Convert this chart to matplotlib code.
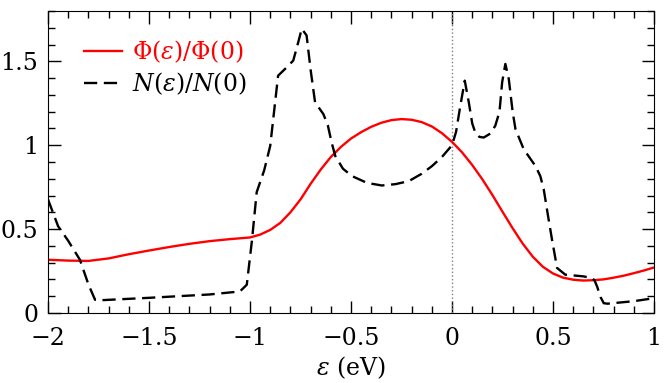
import matplotlib
matplotlib.use("Agg")
import matplotlib.pyplot as plt
from matplotlib.ticker import MultipleLocator

plt.rcParams['font.family'] = ['DejaVu Serif']
plt.rcParams['mathtext.fontset'] = 'dejavuserif'

# Phi(eps)/Phi(0)
phi_x = [-2.0, -1.9, -1.8, -1.7, -1.6, -1.5, -1.4, -1.3, -1.2, -1.1, -1.0,
         -0.95, -0.9, -0.85, -0.8, -0.75, -0.7, -0.65, -0.6, -0.55, -0.5,
         -0.45, -0.4, -0.35, -0.3, -0.25, -0.2, -0.15, -0.1, -0.05, 0.0,
         0.05, 0.1, 0.15, 0.2, 0.25, 0.3, 0.35, 0.4, 0.45, 0.5,
         0.55, 0.6, 0.65, 0.7, 0.75, 0.8, 0.85, 0.9, 0.95, 1.0]
phi_y = [0.317, 0.312, 0.31, 0.325, 0.35, 0.372, 0.393, 0.412, 0.428, 0.44, 0.45,
         0.467, 0.495, 0.537, 0.6, 0.677, 0.77, 0.855, 0.93, 0.99, 1.04,
         1.078, 1.11, 1.134, 1.15, 1.156, 1.152, 1.138, 1.112, 1.072, 1.02,
         0.957, 0.882, 0.797, 0.703, 0.603, 0.505, 0.413, 0.335, 0.275, 0.235,
         0.21, 0.198, 0.193, 0.195, 0.2, 0.21, 0.222, 0.237, 0.253, 0.271]

# N(eps)/N(0)
dos_x = [-2.0, -1.95, -1.9, -1.842, -1.8, -1.767, -1.75, -1.5, -1.2, -1.05,
         -1.016, -0.99, -0.967, -0.93, -0.90, -0.861, -0.818, -0.786, -0.76,
         -0.744, -0.72, -0.7, -0.678, -0.637, -0.615, -0.596, -0.578, -0.54,
         -0.495, -0.42, -0.347, -0.28, -0.214, -0.15, -0.099, -0.05, 0.0,
         0.02, 0.041, 0.063, 0.083, 0.1, 0.115, 0.135, 0.157, 0.19, 0.214,
         0.235, 0.248, 0.264, 0.281, 0.3, 0.314, 0.355, 0.413, 0.437, 0.454,
         0.475, 0.495, 0.52, 0.561, 0.65, 0.693, 0.705, 0.718, 0.735, 0.751,
         0.77, 0.9, 1.0]
dos_y = [0.677, 0.517, 0.43, 0.317, 0.17, 0.078, 0.075, 0.09, 0.11, 0.128,
         0.168, 0.437, 0.72, 0.85, 0.996, 1.415, 1.465, 1.505, 1.62,
         1.695, 1.655, 1.45, 1.256, 1.186, 1.12, 1.016, 0.936, 0.86,
         0.816, 0.775, 0.76, 0.768, 0.786, 0.83, 0.876, 0.93, 1.0,
         1.08, 1.235, 1.385, 1.256, 1.13, 1.076, 1.05, 1.046, 1.07, 1.116,
         1.2, 1.375, 1.485, 1.395, 1.2, 1.096, 0.976, 0.876, 0.816, 0.737,
         0.58, 0.437, 0.268, 0.228, 0.218, 0.208, 0.195, 0.158, 0.095, 0.058,
         0.055, 0.07, 0.088]

fig = plt.figure(figsize=(6.64, 3.83), dpi=100)
ax = fig.add_axes([0.0723, 0.183, 0.9127, 0.788])

ax.axvline(0, color='gray', linestyle=':', linewidth=1)
ax.plot(phi_x, phi_y, color='red', linewidth=1.7,
        label=r'$\Phi(\varepsilon)/\Phi(0)$')
ax.plot(dos_x, dos_y, color='black', linewidth=1.7, linestyle=(0, (5.6, 2.8)),
        label=r'$N(\varepsilon)/N(0)$')

ax.set_xlim(-2, 1)
ax.set_ylim(0, 1.8)
ax.xaxis.set_minor_locator(MultipleLocator(0.1))
ax.yaxis.set_minor_locator(MultipleLocator(0.1))
ax.set_xticks([-2, -1.5, -1, -0.5, 0, 0.5, 1])
ax.set_xticklabels(['\u22122', '\u22121.5', '\u22121', '\u22120.5', '0', '0.5', '1'])
ax.set_yticks([0, 0.5, 1, 1.5])
ax.set_yticklabels(['0', '0.5', '1', '1.5'])
ax.tick_params(which='both', direction='in', top=True, right=True,
               labelsize=17, width=1)
ax.tick_params(which='major', length=9)
ax.tick_params(axis='x', which='major', pad=10)
ax.tick_params(axis='y', which='major', pad=7)
ax.tick_params(which='minor', length=5)
ax.set_xlabel(r'$\varepsilon$ (eV)', fontsize=17, labelpad=3)

leg = ax.legend(loc='upper left', frameon=False, fontsize=17,
                handlelength=1.6, handletextpad=0.4, labelspacing=0.25,
                bbox_to_anchor=(0.025, 0.98))
for text, line in zip(leg.get_texts(), leg.get_lines()):
    text.set_color(line.get_color())

fig.savefig('out.png', dpi=100)
